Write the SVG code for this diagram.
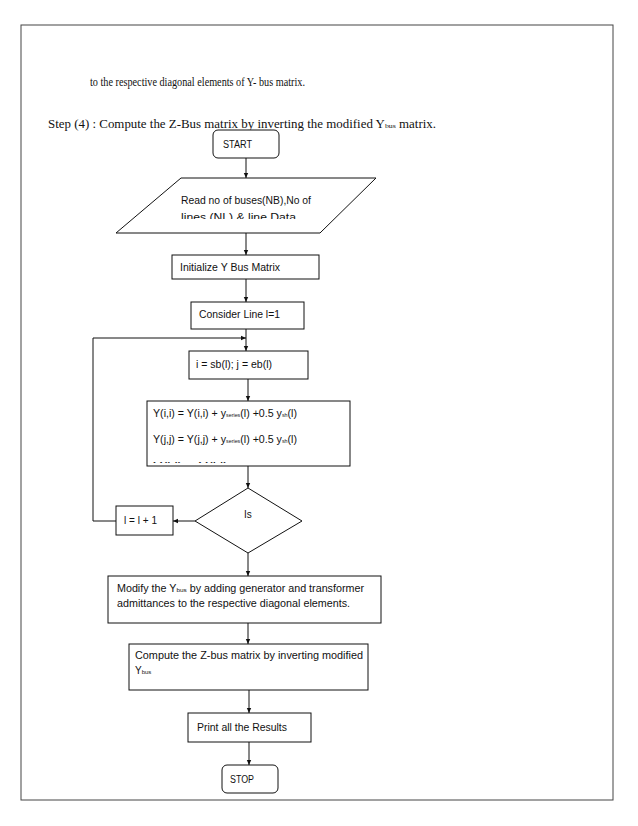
<svg xmlns="http://www.w3.org/2000/svg" width="638" height="826" viewBox="0 0 638 826">
<defs>
<style>
.doc{font-family:"Liberation Serif","Times New Roman",serif;font-size:11.5px;fill:#111}
.t{font-family:"Liberation Sans",Arial,sans-serif;font-size:10px;fill:#111}
.box{fill:#fff;stroke:#111;stroke-width:1}
.ln{fill:none;stroke:#111;stroke-width:1}
</style>
<marker id="ah" markerWidth="6" markerHeight="6" refX="5" refY="3" orient="auto" markerUnits="userSpaceOnUse">
<path d="M0,0.8 L5,3 L0,5.2 Z" fill="#111"/>
</marker>
<clipPath id="c1"><rect x="116" y="178" width="260" height="41"/></clipPath>
<clipPath id="c2"><rect x="147" y="401" width="203" height="62"/></clipPath>
</defs>
<rect x="0" y="0" width="638" height="826" fill="#fff"/>
<rect x="21" y="25" width="592" height="775" fill="none" stroke="#444" stroke-width="1"/>
<text class="doc" x="90" y="86" textLength="215" lengthAdjust="spacingAndGlyphs">to the respective diagonal elements of Y- bus matrix.</text>
<text class="doc" x="48" y="128" textLength="388" lengthAdjust="spacingAndGlyphs">Step (4) : Compute the Z-Bus matrix by inverting the modified Y<tspan font-size="7">bus</tspan> matrix.</text>

<g id="connectors">
<line class="ln" x1="246" y1="158" x2="246" y2="178" marker-end="url(#ah)"/>
<line class="ln" x1="246" y1="233" x2="246" y2="255" marker-end="url(#ah)"/>
<line class="ln" x1="246" y1="279" x2="246" y2="302" marker-end="url(#ah)"/>
<line class="ln" x1="246" y1="329" x2="246" y2="351" marker-end="url(#ah)"/>
<polyline class="ln" points="116,521 93,521 93,338 246,338" marker-end="url(#ah)"/>
<line class="ln" x1="248" y1="379" x2="248" y2="401" marker-end="url(#ah)"/>
<line class="ln" x1="248" y1="466" x2="248" y2="488" marker-end="url(#ah)"/>
<line class="ln" x1="195" y1="521" x2="173" y2="521" marker-end="url(#ah)"/>
<line class="ln" x1="248" y1="553" x2="248" y2="576" marker-end="url(#ah)"/>
<line class="ln" x1="248" y1="623" x2="248" y2="644" marker-end="url(#ah)"/>
<line class="ln" x1="249" y1="690" x2="249" y2="713" marker-end="url(#ah)"/>
<line class="ln" x1="249" y1="742" x2="249" y2="765" marker-end="url(#ah)"/>
</g>

<g id="start">
<rect class="box" x="213" y="130" width="66" height="28" rx="5"/>
<text class="t" x="223" y="148" textLength="29" lengthAdjust="spacingAndGlyphs">START</text>
</g>
<g id="read">
<polygon class="box" points="181,178 376,178 320,233 116,233"/>
<g clip-path="url(#c1)">
<text class="t" x="181" y="204" textLength="130" lengthAdjust="spacingAndGlyphs">Read no of buses(NB),No of</text>
<text class="t" x="181" y="221" textLength="115" lengthAdjust="spacingAndGlyphs">lines (NL) &amp; line Data</text>
</g>
</g>
<g id="init">
<rect class="box" x="172" y="255" width="147" height="24"/>
<text class="t" x="180" y="271" textLength="100" lengthAdjust="spacingAndGlyphs">Initialize Y Bus Matrix</text>
</g>
<g id="consider">
<rect class="box" x="191" y="302" width="113" height="27"/>
<text class="t" x="199" y="318" textLength="81" lengthAdjust="spacingAndGlyphs">Consider Line l=1</text>
</g>
<g id="ij">
<rect class="box" x="189" y="351" width="119" height="28"/>
<text class="t" x="196" y="368" textLength="76" lengthAdjust="spacingAndGlyphs">i = sb(l); j = eb(l)</text>
</g>
<g id="yupdate">
<rect class="box" x="147" y="401" width="203" height="65"/>
<g clip-path="url(#c2)">
<text class="t" x="153" y="417" textLength="144" lengthAdjust="spacingAndGlyphs">Y(i,i) = Y(i,i) + y<tspan font-size="5">series</tspan>(l) +0.5 y<tspan font-size="5">sh</tspan>(l)</text>
<text class="t" x="153" y="443" textLength="144" lengthAdjust="spacingAndGlyphs">Y(j,j) = Y(j,j) + y<tspan font-size="5">series</tspan>(l) +0.5 y<tspan font-size="5">sh</tspan>(l)</text>
<text class="t" x="153" y="470" textLength="75" lengthAdjust="spacingAndGlyphs">Y(i,j) = Y(i,j)</text>
</g>
</g>
<g id="decision">
<polygon class="box" points="248,488 302,521 248,553 195,521"/>
<text class="t" x="244" y="518">Is</text>
</g>
<g id="incr">
<rect class="box" x="116" y="506" width="57" height="29"/>
<text class="t" x="124" y="524" textLength="33" lengthAdjust="spacingAndGlyphs">l = l + 1</text>
</g>
<g id="modify">
<rect class="box" x="108" y="576" width="273" height="47"/>
<text class="t" x="117" y="592" textLength="247" lengthAdjust="spacingAndGlyphs">Modify the Y<tspan font-size="6">bus</tspan> by adding generator and transformer</text>
<text class="t" x="117" y="607" textLength="233" lengthAdjust="spacingAndGlyphs">admittances to the respective diagonal elements.</text>
</g>
<g id="compute">
<rect class="box" x="129" y="644" width="239" height="46"/>
<text class="t" x="135" y="659" textLength="228" lengthAdjust="spacingAndGlyphs">Compute the Z-bus matrix by inverting modified</text>
<text class="t" x="135" y="674">Y<tspan font-size="6">bus</tspan></text>
</g>
<g id="print">
<rect class="box" x="188" y="713" width="123" height="29"/>
<text class="t" x="197" y="731" textLength="90" lengthAdjust="spacingAndGlyphs">Print all the Results</text>
</g>
<g id="stop">
<rect class="box" x="222" y="765" width="56" height="28" rx="5"/>
<text class="t" x="230" y="783" textLength="24" lengthAdjust="spacingAndGlyphs">STOP</text>
</g>
</svg>
